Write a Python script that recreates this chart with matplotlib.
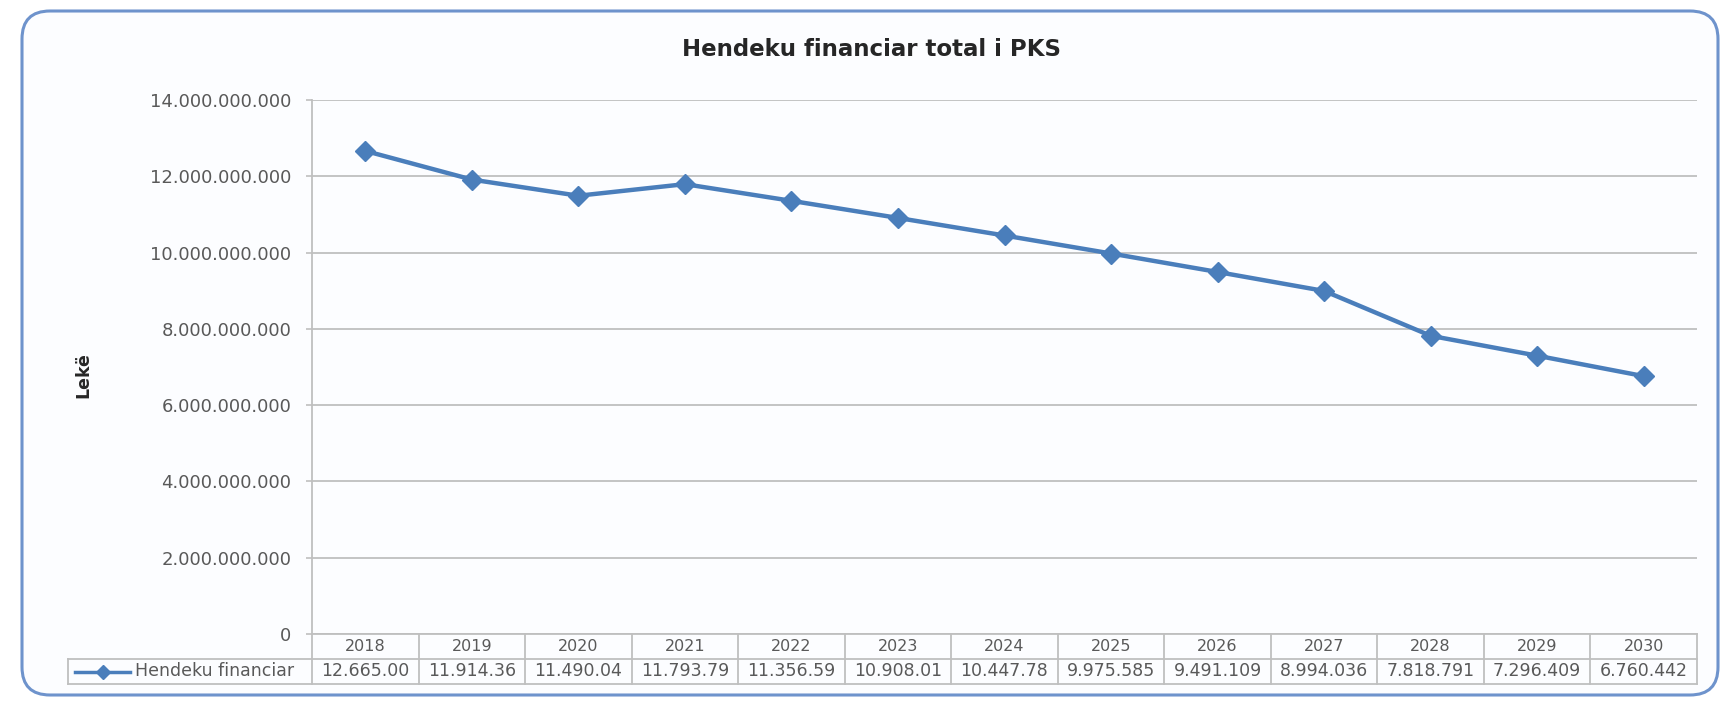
import matplotlib
matplotlib.use("Agg")
import matplotlib.pyplot as plt
import matplotlib.transforms as mtransforms
from matplotlib.patches import FancyBboxPatch
from matplotlib.lines import Line2D
from matplotlib.ticker import FuncFormatter, MultipleLocator

# ---- data ----
years = ["2018", "2019", "2020", "2021", "2022", "2023", "2024",
         "2025", "2026", "2027", "2028", "2029", "2030"]
values = [12665.00e6, 11914.36e6, 11490.04e6, 11793.79e6, 11356.59e6,
          10908.01e6, 10447.78e6, 9975.585e6, 9491.109e6, 8994.036e6,
          7818.791e6, 7296.409e6, 6760.442e6]
table_labels = ["12.665.00", "11.914.36", "11.490.04", "11.793.79", "11.356.59",
                "10.908.01", "10.447.78", "9.975.585", "9.491.109", "8.994.036",
                "7.818.791", "7.296.409", "6.760.442"]
series_name = "Hendeku financiar"
title = "Hendeku financiar total i PKS"
ylabel = "Lekë"
y_max = 14e9
y_step = 2e9

# ---- style ----
W, H = 1728, 703
line_color = "#4A7EBB"
grid_color = "#BFBFBF"
text_color = "#595959"
border_color = "#BFBFBF"
plt.rcParams['font.family'] = ['DejaVu Sans']

fig = plt.figure(figsize=(W / 100, H / 100), dpi=100)
fig.patch.set_facecolor("white")

# rounded frame (pixel based)
r = 28
frame = FancyBboxPatch((22, 8), 1718 - 22, 692 - 8,
                       boxstyle=f"round,pad=0,rounding_size={r}",
                       transform=mtransforms.IdentityTransform(),
                       facecolor="#FCFDFF", edgecolor="#6E93CC",
                       linewidth=2.2, zorder=-5)
fig.patches.append(frame)

ax_l, ax_r = 312 / W, 1697 / W
ax_t, ax_b = 1 - 100 / H, 1 - 634 / H
ax = fig.add_axes([ax_l, ax_b, ax_r - ax_l, ax_t - ax_b])
ax.set_facecolor("none")
ax.set_zorder(2)

x = list(range(len(years)))
ax.plot(x, values, color=line_color, lw=3.2, marker="D", ms=10.5,
        markerfacecolor=line_color, markeredgecolor=line_color, zorder=3,
        clip_on=False)

ax.set_xlim(-0.5, len(years) - 0.5)
ax.set_ylim(0, y_max)
ax.yaxis.set_major_locator(MultipleLocator(y_step))
ax.yaxis.set_major_formatter(FuncFormatter(lambda v, p: f"{v:,.0f}".replace(",", ".")))
ax.tick_params(axis="y", labelsize=13, labelcolor=text_color, color=grid_color,
               length=4, width=1.2, pad=11)
ax.set_xticks([])
ax.grid(axis="y", color=grid_color, lw=1.3)
ax.set_axisbelow(True)
for s in ["top", "right", "bottom"]:
    ax.spines[s].set_visible(False)
ax.spines["left"].set_color(grid_color)
ax.spines["left"].set_linewidth(1.3)

fig.text(872 / W, 1 - 50 / H, title, fontsize=16.5, fontweight="bold",
         color="#262626", ha="center", va="center")
fig.text(83 / W, 1 - 375 / H, ylabel, rotation=90, fontsize=12.5,
         fontweight="bold", color="#262626", ha="center", va="center")

# ---- data table below the axes ----
ax_h_px = 634 - 100
row_h = 25 / ax_h_px
blend = mtransforms.blended_transform_factory(ax.transData, ax.transAxes)
left_cell = (68 - 312) / (1697 - 312)
n = len(years)
lkw = dict(color=border_color, lw=1.3, clip_on=False)

# horizontal lines
ax.plot([-0.5, n - 0.5], [0, 0], transform=blend, **lkw)
ax.plot([left_cell, 1], [-row_h, -row_h], transform=ax.transAxes, **lkw)
ax.plot([left_cell, 1], [-2 * row_h, -2 * row_h], transform=ax.transAxes, **lkw)
# vertical lines
for i in range(n + 1):
    ax.plot([i - 0.5, i - 0.5], [0, -2 * row_h], transform=blend, **lkw)
ax.plot([left_cell, left_cell], [-row_h, -2 * row_h], transform=ax.transAxes, **lkw)

for i, (yr, lab) in enumerate(zip(years, table_labels)):
    ax.text(i, -0.5 * row_h, yr, transform=blend, ha="center", va="center",
            fontsize=11.5, color=text_color)
    ax.text(i, -1.5 * row_h, lab, transform=blend, ha="center", va="center",
            fontsize=12.5, color=text_color)

# legend key inside the row label cell
key_y = -1.5 * row_h
kx0 = (75 - 312) / (1697 - 312)
kx1 = (130 - 312) / (1697 - 312)
ax.add_line(Line2D([kx0, kx1], [key_y, key_y], transform=ax.transAxes,
                   color=line_color, lw=2.5, clip_on=False))
ax.add_line(Line2D([(kx0 + kx1) / 2], [key_y], transform=ax.transAxes,
                   color=line_color, marker="D", ms=7, clip_on=False))
ax.text((135 - 312) / (1697 - 312), key_y, series_name, transform=ax.transAxes,
        ha="left", va="center", fontsize=12.5, color=text_color)

fig.savefig("out.png", dpi=100, facecolor="white")
